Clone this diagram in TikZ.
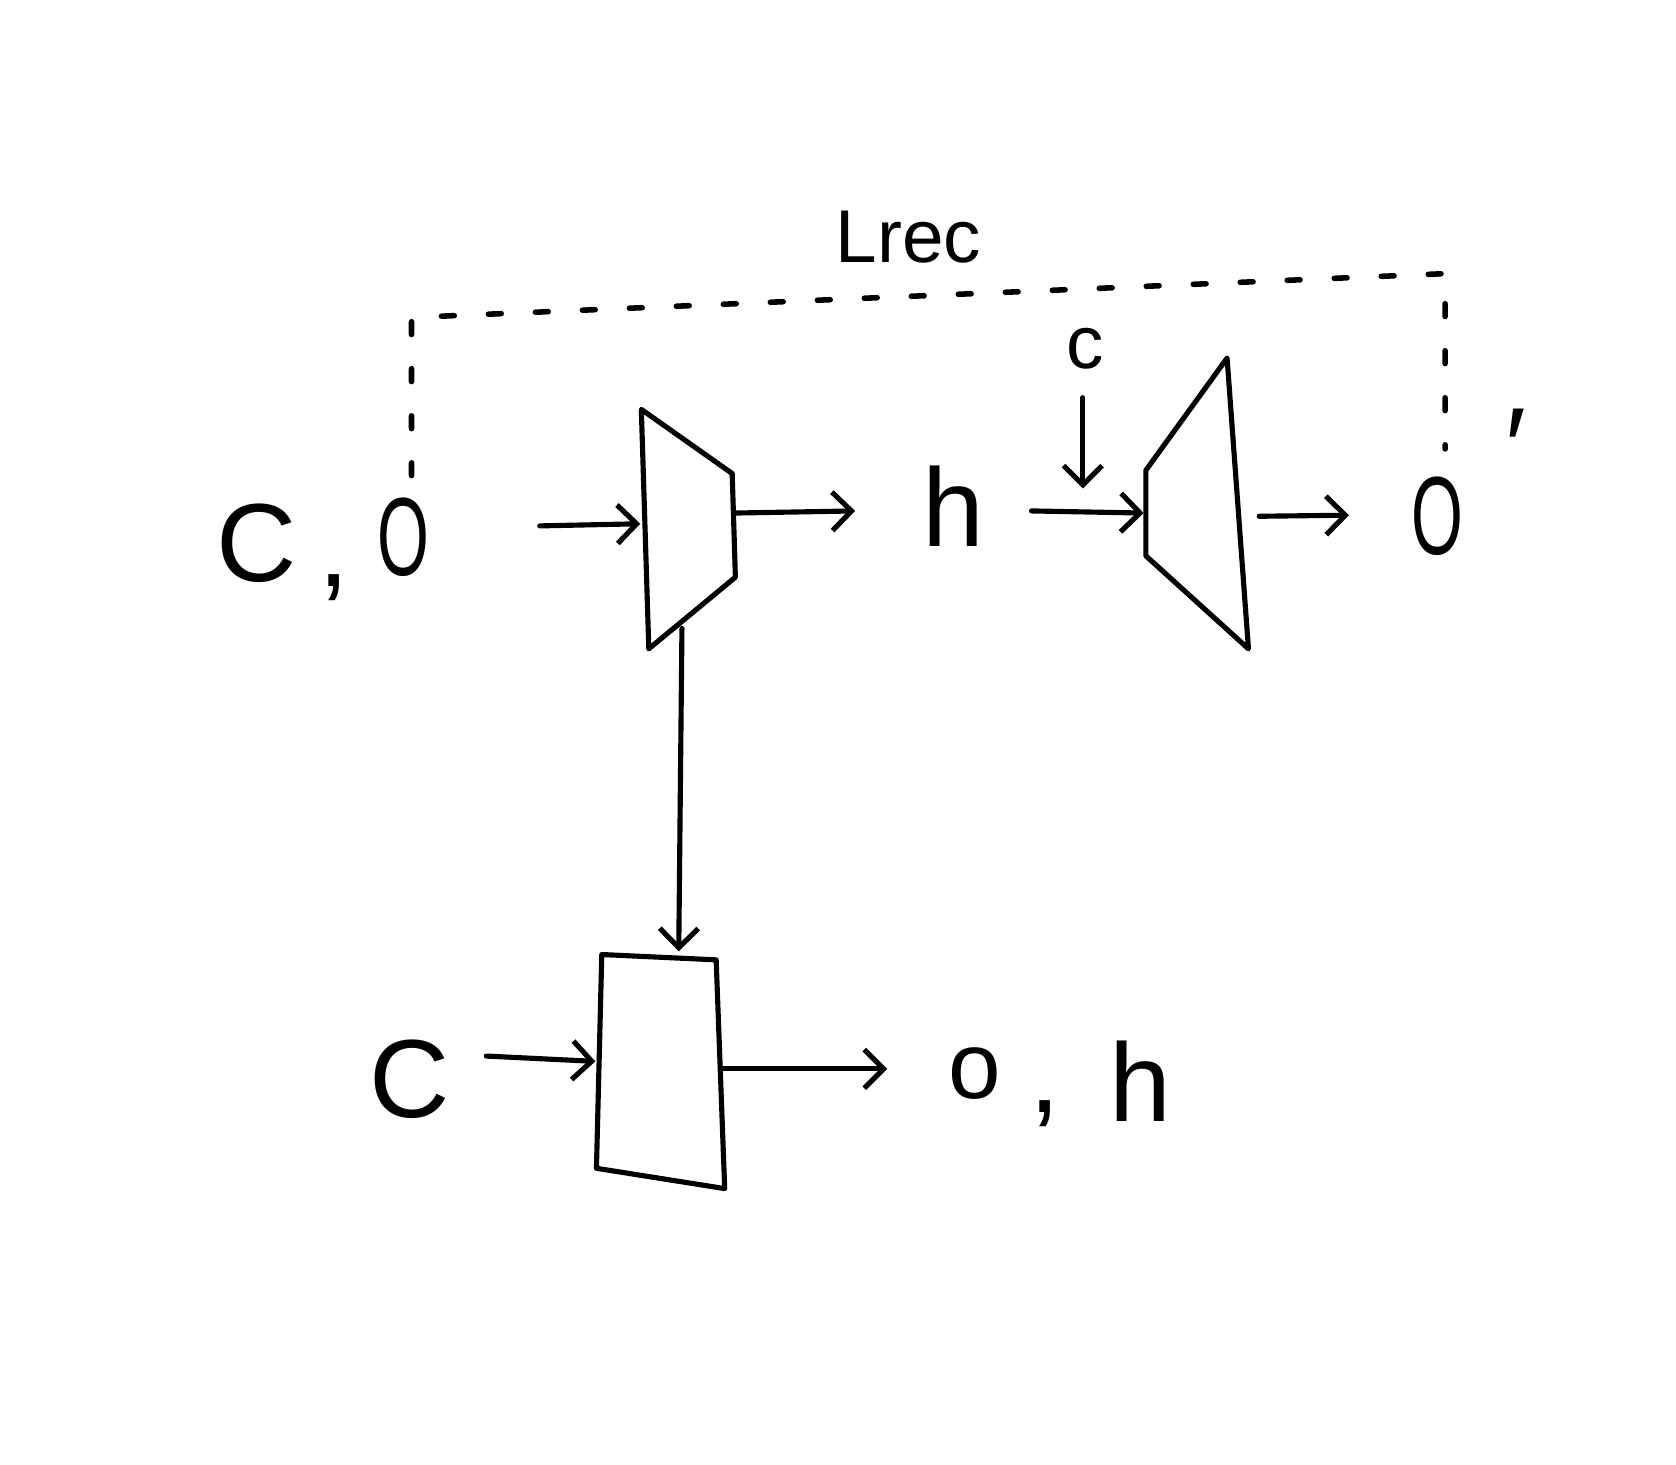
\documentclass[tikz,border=0pt]{standalone}
\usepackage{fontspec}
\setmainfont{Liberation Sans}
\usetikzlibrary{arrows.meta}
\begin{document}
\begin{tikzpicture}[x=0.5pt,y=-0.5pt, line width=2.4pt, line cap=round, line join=round,
  arr/.style={-{Straight Barb[length=9pt,width=18pt,line width=2.4pt]}},
  big/.style={font=\fontsize{52}{52}\selectfont, inner sep=0pt},
  mid/.style={font=\fontsize{35}{35}\selectfont, inner sep=0pt},
  dsh/.style={line width=2.6pt, dash pattern=on 6pt off 16pt}]
\useasboundingbox (0,0) rectangle (1568,1370);
\fill[white] (0,0) rectangle (1568,1370);

% texts
\node[mid] (lrec) at (850,222) {Lrec};
\node[big] (cin) at (240,508) {C};
\node[big] (cm1) at (312,550) {,};
\node[big, xscale=0.6] (oin) at (377,503) {O};
\node[big] (h1) at (892,474) {h};
\node[mid] (cc) at (1015,326) {c};
\node[big, xscale=0.6] (oout) at (1345,483) {O};
\node[big] (pr) at (1418,418) {′};
\node[big] (cb) at (383,1010) {C};
\node[big, scale=0.85] (ob) at (912,1004) {o};
\node[big] (cm2) at (978,1042) {,};
\node[big] (hb) at (1067,1012) {h};

% encoder
\coordinate (e1) at (600,383);
\coordinate (e2) at (685,443);
\coordinate (e3) at (688,540);
\coordinate (e4) at (607,607);
\draw (e1) -- (e2) -- (e3) -- (e4) -- cycle;
\coordinate (encin) at (599,490);
\coordinate (encout) at (687,480);
\coordinate (encbot) at (638,588);

% decoder
\coordinate (d1) at (1072,440);
\coordinate (d2) at (1148,335);
\coordinate (d3) at (1168,607);
\coordinate (d4) at (1072,520);
\draw (d1) -- (d2) -- (d3) -- (d4) -- cycle;
\coordinate (decin) at (1070,480);
\coordinate (decout) at (1178,483);
\coordinate (dectop) at (1013,457);

% bottom box
\coordinate (b1) at (563,893);
\coordinate (b2) at (670,898);
\coordinate (b3) at (678,1112);
\coordinate (b4) at (558,1093);
\draw (b1) -- (b2) -- (b3) -- (b4) -- cycle;
\coordinate (boxtop) at (635,890);
\coordinate (boxin) at (557,993);
\coordinate (boxout) at (676,1000);

% arrow free ends
\coordinate (s1) at (505,492);
\coordinate (t2) at (800,478);
\coordinate (s3) at (965,478);
\coordinate (s4) at (1013,372);
\coordinate (t5) at (1262,482);
\coordinate (s6) at (455,988);
\coordinate (t7) at (830,1000);

% connectors
\draw[arr] (s1) -- (encin);
\draw[arr] (encout) -- (t2);
\draw[arr] (s3) -- (decin);
\draw[arr] (s4) -- (dectop);
\draw[arr] (decout) -- (t5);
\draw[arr] (encbot) -- (boxtop);
\draw[arr] (s6) -- (boxin);
\draw[arr] (boxout) -- (t7);

% dashed reconstruction loss
\coordinate (lt) at (385,297);
\coordinate (rt) at (1352,256);
\coordinate (lb) at (385,445);
\coordinate (rb) at (1352,420);
\draw[dsh] (lb) -- (lt) -- (rt) -- (rb);
\end{tikzpicture}
\end{document}
